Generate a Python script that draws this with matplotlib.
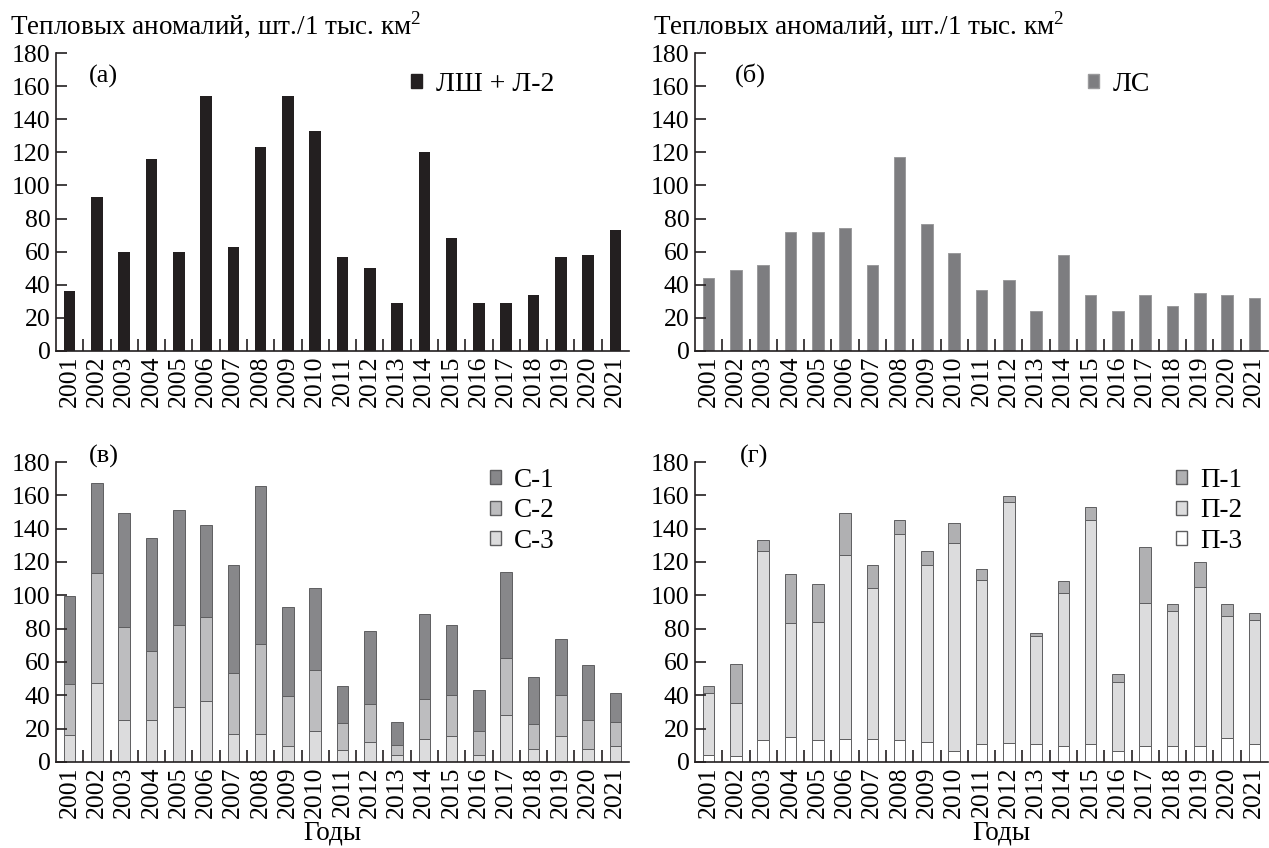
import numpy as np
import matplotlib
matplotlib.use('Agg')
import matplotlib.pyplot as plt
from matplotlib.patches import Patch

plt.rcParams['font.family'] = ['Liberation Serif', 'DejaVu Serif']
plt.rcParams['mathtext.fontset'] = 'custom'
plt.rcParams['mathtext.rm'] = 'Liberation Serif'
plt.rcParams['font.size'] = 18.5

years = [str(y) for y in range(2001, 2022)]

# (а) ЛШ + Л-2
lsh_l2 = [36, 93, 60, 116, 60, 154, 63, 123, 154, 133, 57, 50, 29, 120, 68, 29, 29, 34, 57, 58, 73]
# (б) ЛС
ls = [44, 49, 52, 72, 72, 74, 52, 117, 77, 59, 37, 43, 24, 58, 34, 24, 34, 27, 35, 34, 32]
# (в) cumulative tops: С-3, С-3+С-2, total
c3_top = [16, 47.6, 25.4, 25.4, 33, 36.8, 16.6, 16.6, 9.6, 18.4, 7.4, 12, 4, 14, 15.4, 4.4, 28.4, 7.8, 15.8, 8, 9.6]
c2_top = [47, 113.4, 81, 66.8, 82.4, 87, 53.6, 70.6, 39.6, 55.2, 23.4, 35, 10.4, 38, 40.4, 18.6, 62.4, 22.8, 40.4, 25.4, 24.2]
c1_top = [99.4, 167.2, 149.4, 134.2, 151.2, 142.4, 118.2, 165.8, 93, 104.6, 45.8, 78.4, 24, 88.8, 82.4, 43, 113.8, 51.2, 74, 58.2, 41.6]
# (г) cumulative tops: П-3, П-3+П-2, total
p3_top = [4.4, 3.4, 13, 15, 13.4, 14, 13.8, 13.4, 12, 6.4, 11, 11.6, 11, 9.4, 11, 6.6, 9.4, 9.4, 9.4, 14.4, 11]
p2_top = [41.6, 35.4, 126.4, 83.6, 84.2, 124.4, 104.4, 136.8, 118, 131.6, 109, 155.8, 75.4, 101.6, 145, 48, 95.2, 90.4, 105.2, 87.6, 85.2]
p1_top = [45.4, 59, 133, 113, 107, 149.4, 118, 145.4, 126.6, 143.4, 115.6, 159.6, 77.6, 108.4, 152.8, 53, 128.8, 94.6, 119.8, 94.8, 89.2]

c3 = np.array(c3_top)
c2 = np.array(c2_top) - c3
c1 = np.array(c1_top) - np.array(c2_top)
p3 = np.array(p3_top)
p2 = np.array(p2_top) - p3
p1 = np.array(p1_top) - np.array(p2_top)

ink = '#231f20'
ylab = 'Тепловых аномалий, шт./1 тыс. км$^{2}$'

W, H = 1269, 848
fig = plt.figure(figsize=(W / 100, H / 100), dpi=100)

def box(l, r, top, bot):
    return [l / W, 1 - bot / H, (r - l) / W, (bot - top) / H]

ax_a = fig.add_axes(box(56, 629, 53, 351))
ax_b = fig.add_axes(box(695, 1268, 53, 351))
ax_c = fig.add_axes(box(56, 629, 462, 762))
ax_d = fig.add_axes(box(695, 1268, 462, 762))

x = np.arange(len(years))
bw = 0.42

def style(ax):
    ax.set_xlim(-0.5, len(years) - 0.5)
    ax.set_ylim(0, 180)
    ax.set_yticks(range(0, 181, 20))
    ax.set_xticks(x)
    ax.set_xticklabels(years, rotation=90)
    ax.set_xticks(x[:-1] + 0.5, minor=True)
    ax.tick_params(axis='x', which='major', length=0, pad=3)
    ax.tick_params(axis='x', which='minor', direction='in', length=9, width=1.2, color=ink)
    ax.tick_params(axis='y', direction='in', length=8, width=1.2, color=ink, pad=4)
    for s in ['top', 'right']:
        ax.spines[s].set_visible(False)
    for s in ['left', 'bottom']:
        ax.spines[s].set_linewidth(1.2)
        ax.spines[s].set_color(ink)

def legend(ax, handles, xa, ya, fs):
    ax.legend(handles=handles, loc='upper left', bbox_to_anchor=(xa, ya), frameon=False,
              borderpad=0, borderaxespad=0, handlelength=0.4, handleheight=0.4,
              handletextpad=0.5, labelspacing=0.2, fontsize=fs)

# (а)
ax_a.bar(x, lsh_l2, width=bw, color=ink)
style(ax_a)
legend(ax_a, [Patch(facecolor=ink, edgecolor=ink, label='ЛШ + Л-2')], 0.62, 0.935, 20)
ax_a.text(0.058, 0.92, '(а)', transform=ax_a.transAxes, va='center', fontsize=19)

# (б)
ax_b.bar(x, ls, width=bw, color='#7d7d80', edgecolor='#9a9a9c', linewidth=0.7)
style(ax_b)
legend(ax_b, [Patch(facecolor='#7d7d80', edgecolor='#9a9a9c', label='ЛС')], 0.685, 0.935, 20)
ax_b.text(0.07, 0.925, '(б)', transform=ax_b.transAxes, va='center', fontsize=19)

# (в)
col_c = ['#87878a', '#bdbdbf', '#dcdcdd']
ec = '#5e5e60'
ax_c.bar(x, c3, width=bw, color=col_c[2], edgecolor=ec, linewidth=0.7)
ax_c.bar(x, c2, width=bw, bottom=c3, color=col_c[1], edgecolor=ec, linewidth=0.7)
ax_c.bar(x, c1, width=bw, bottom=c3 + c2, color=col_c[0], edgecolor=ec, linewidth=0.7)
style(ax_c)
legend(ax_c, [Patch(facecolor=col_c[0], edgecolor=ec, label='С-1'),
              Patch(facecolor=col_c[1], edgecolor=ec, label='С-2'),
              Patch(facecolor=col_c[2], edgecolor=ec, label='С-3')], 0.757, 0.98, 19.5)
ax_c.text(0.058, 1.017, '(в)', transform=ax_c.transAxes, va='center', fontsize=19)

# (г)
col_d = ['#b0b0b2', '#dcdcdd', '#ffffff']
ax_d.bar(x, p3, width=bw, color=col_d[2], edgecolor=ec, linewidth=0.7)
ax_d.bar(x, p2, width=bw, bottom=p3, color=col_d[1], edgecolor=ec, linewidth=0.7)
ax_d.bar(x, p1, width=bw, bottom=p3 + p2, color=col_d[0], edgecolor=ec, linewidth=0.7)
style(ax_d)
legend(ax_d, [Patch(facecolor=col_d[0], edgecolor=ec, label='П-1'),
              Patch(facecolor=col_d[1], edgecolor=ec, label='П-2'),
              Patch(facecolor=col_d[2], edgecolor=ec, label='П-3')], 0.84, 0.98, 19.5)
ax_d.text(0.078, 1.017, '(г)', transform=ax_d.transAxes, va='center', fontsize=19)

fig.text(332 / W, 1 - 833 / H, 'Годы', ha='center', va='center', fontsize=19.5)
fig.text(1001 / W, 1 - 833 / H, 'Годы', ha='center', va='center', fontsize=19.5)

fig.text(10 / W, 1 - 25 / H, ylab, va='center', ha='left', fontsize=19.5)
fig.text(653 / W, 1 - 25 / H, ylab, va='center', ha='left', fontsize=19.5)

fig.savefig('out.png', dpi=100)
